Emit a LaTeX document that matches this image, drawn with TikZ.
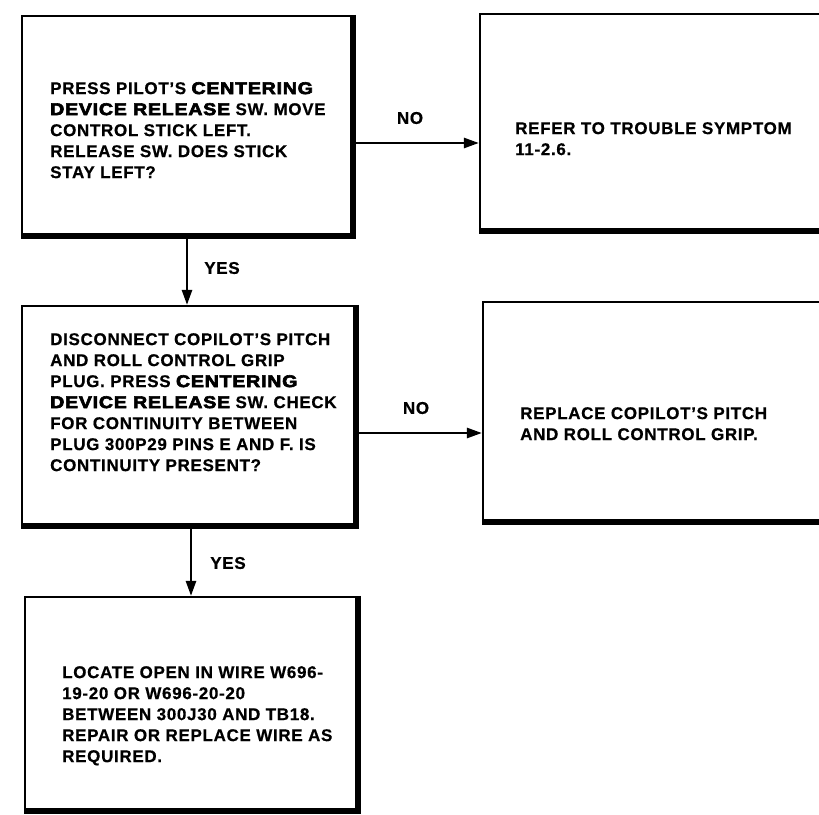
\documentclass[tikz,border=0pt]{standalone}
\usepackage{fontspec}
\usepackage{graphicx}
\setmainfont{Liberation Sans}[LetterSpace=4,BoldFeatures={FakeBold=0.6}]
\newfontfamily\heavyfont{Liberation Sans Bold}[FakeBold=3.5,LetterSpace=4]
\usetikzlibrary{arrows.meta}
\newcommand\hv[1]{\scalebox{1.15}[1]{\heavyfont #1}}
\tikzset{
  box/.style={draw, line width=2.2pt, inner sep=0pt},
  heavyedge/.style={line width=5.5pt, line join=miter},
  txt/.style={anchor=north west, inner sep=0pt, align=left,
    font=\fontsize{17}{21}\selectfont\bfseries},
  lbl/.style={inner sep=0pt, font=\fontsize{17}{21}\selectfont\bfseries},
  arr/.style={line width=2.6pt, -{Triangle[length=15pt,width=10pt]}}
}
\begin{document}
\begin{tikzpicture}[x=1pt,y=-1pt]
\clip (0,0) rectangle (819,814);
\fill[white] (0,0) rectangle (819,814);
% boxes
\node[box, minimum width=330pt, minimum height=219pt] (a) at (187,125.5) {};
\node[box, minimum width=380pt, minimum height=216pt] (b) at (670,122) {};
\node[box, minimum width=333pt, minimum height=219pt] (c) at (188.5,415.5) {};
\node[box, minimum width=377pt, minimum height=219pt] (d) at (671.5,411.5) {};
\node[box, minimum width=332pt, minimum height=213pt] (e) at (191,703.5) {};
% heavy right and bottom edges
\draw[heavyedge] (a.north east) -- (a.south east) -- (a.south west);
\draw[heavyedge] (b.south east) -- (b.south west);
\draw[heavyedge] (c.north east) -- (c.south east) -- (c.south west);
\draw[heavyedge] (d.south east) -- (d.south west);
\draw[heavyedge] (e.north east) -- (e.south east) -- (e.south west);
% texts
\node[txt] (ta) at (50,82) {PRESS PILOT’S \hv{CENTERING}\\
\hv{DEVICE RELEASE} SW. MOVE\\
CONTROL STICK LEFT.\\
RELEASE SW. DOES STICK\\
STAY LEFT?};
\node[txt] (tb) at (515,122) {REFER TO TROUBLE SYMPTOM\\
11-2.6.};
\node[txt] (tc) at (50,333) {DISCONNECT COPILOT’S PITCH\\
AND ROLL CONTROL GRIP\\
PLUG. PRESS \hv{CENTERING}\\
\hv{DEVICE RELEASE} SW. CHECK\\
FOR CONTINUITY BETWEEN\\
PLUG 300P29 PINS E AND F. IS\\
CONTINUITY PRESENT?};
\node[txt] (td) at (520,407) {REPLACE COPILOT’S PITCH\\
AND ROLL CONTROL GRIP.};
\node[txt] (te) at (62,666) {LOCATE OPEN IN WIRE W696-\\
19-20 OR W696-20-20\\
BETWEEN 300J30 AND TB18.\\
REPAIR OR REPLACE WIRE AS\\
REQUIRED.};
% connectors
\coordinate (n1) at (400,143);
\coordinate (n2) at (400,433);
\draw[arr] (a.east |- n1) -- (b.west |- n1);
\draw[arr] (c.east |- n2) -- (d.west |- n2);
\draw[arr] (a.south) -- (a.south |- c.north);
\draw[arr] (e.north |- c.south) -- (e.north);
% labels
\node[lbl] (no1) at (410,118) {NO};
\node[lbl] (no2) at (416,408) {NO};
\node[lbl] (yes1) at (222,268) {YES};
\node[lbl] (yes2) at (228,563) {YES};
\end{tikzpicture}
\end{document}
